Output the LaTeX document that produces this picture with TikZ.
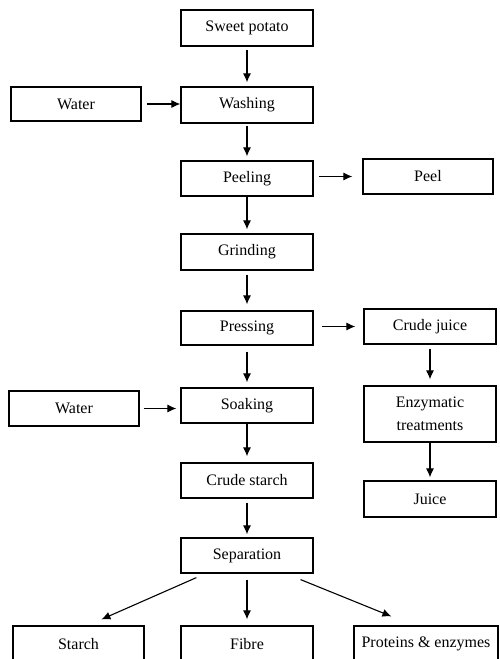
\documentclass[tikz,border=0pt]{standalone}
\usepackage{fontspec}
\setmainfont{Liberation Serif}
\usetikzlibrary{arrows.meta}
\begin{document}
\begin{tikzpicture}[x=1pt,y=-1pt,
  box/.style={draw=black, line width=1.2pt, rectangle, inner sep=0pt,
    font=\fontsize{16}{23}\selectfont, align=center},
  arr/.style={draw=black, line width=1.1pt, -{Latex[length=9pt,width=8pt]}}]
\useasboundingbox (0,0) rectangle (499,659);
\node[box, minimum width=132, minimum height=36] (sp) at (247,28) {Sweet potato};
\node[box, minimum width=130, minimum height=34] (w1) at (76,104) {Water};
\node[box, minimum width=132, minimum height=36] (wash) at (247,105) {Washing};
\node[box, minimum width=132, minimum height=35] (peeling) at (247,178.5) {Peeling};
\node[box, minimum width=130, minimum height=35] (peel) at (428,176.5) {Peel};
\node[box, minimum width=132, minimum height=36] (grind) at (247,252) {Grinding};
\node[box, minimum width=132, minimum height=34] (press) at (247,328) {Pressing};
\node[box, minimum width=132, minimum height=35] (cj) at (430,326.5) {Crude juice};
\node[box, minimum width=132, minimum height=35] (soak) at (247,405.5) {Soaking};
\node[box, minimum width=130, minimum height=35] (w2) at (74,408.5) {Water};
\node[box, minimum width=132, minimum height=56] (enz) at (430,414) {Enzymatic\\treatments};
\node[box, minimum width=132, minimum height=35] (cs) at (247,480.5) {Crude starch};
\node[box, minimum width=132, minimum height=36] (juice) at (430,499) {Juice};
\node[box, minimum width=132, minimum height=35] (sep) at (247,555.5) {Separation};
\node[box, minimum width=131, minimum height=36] (starch) at (78.5,644) {Starch};
\node[box, minimum width=132, minimum height=36] (fibre) at (247,644) {Fibre};
\node[box, minimum width=144, minimum height=36] (prot) at (426,644) {Proteins \& enzymes};
% vertical arrows
\draw[arr, shorten <=3pt, shorten >=4pt] (sp) -- (wash);
\draw[arr, shorten <=2pt, shorten >=4pt] (wash) -- (peeling);
\draw[arr, shorten <=0pt, shorten >=4pt] (peeling) -- (grind);
\draw[arr, shorten <=4pt, shorten >=6pt] (grind) -- (press);
\draw[arr, shorten <=6pt, shorten >=5pt] (press) -- (soak);
\draw[arr, shorten <=0pt, shorten >=6pt] (soak) -- (cs);
\draw[arr, shorten <=4pt, shorten >=3pt] (cs) -- (sep);
\draw[arr, shorten <=4pt, shorten >=6pt] (cj) -- (enz);
\draw[arr, shorten <=0pt, shorten >=3pt] (enz) -- (juice);
% horizontal arrows
\draw[arr, shorten <=5pt, shorten >=0pt] (w1) -- (wash.west |- w1.east);
\draw[arr, shorten <=4pt, shorten >=4pt] (w2) -- (soak.west |- w2.east);
\draw[arr, shorten <=5pt, shorten >=10pt] (peeling.east |- peel.west) -- (peel);
\draw[arr, shorten <=8pt, shorten >=8pt] (press.east |- cj.west) -- (cj);
% separation outputs
\draw[arr] ([xshift=16pt,yshift=-4pt]sep.south west) -- ([xshift=89pt,yshift=6pt]starch.north west);
\draw[arr, shorten <=6pt, shorten >=6pt] (sep) -- (fibre);
\draw[arr] ([xshift=-13pt,yshift=-6pt]sep.south east) -- ([xshift=38pt,yshift=9pt]prot.north west);
\end{tikzpicture}
\end{document}
